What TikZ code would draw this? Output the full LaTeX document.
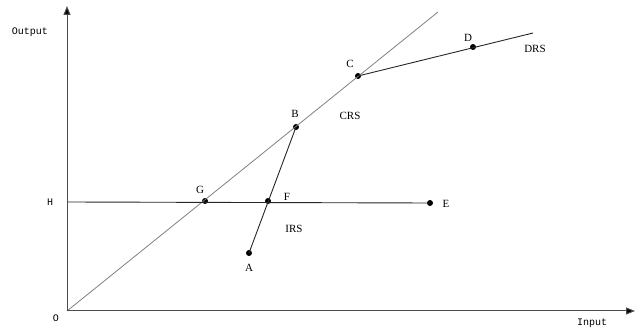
\documentclass[tikz,border=0pt]{standalone}
\usepackage{fontspec}
\usetikzlibrary{arrows.meta}
\setmainfont{Liberation Serif}
\newfontfamily\axfont{Liberation Mono}
\begin{document}
\begin{tikzpicture}[x=1pt,y=-1pt,
  dot/.style={circle,fill=black,inner sep=0pt,minimum size=6pt},
  lab/.style={font=\fontsize{11}{12}\selectfont,inner sep=0pt},
  axlab/.style={font=\axfont\fontsize{10}{11}\selectfont,inner sep=0pt},
  axisline/.style={draw=black!70,line width=1pt,-{Triangle[length=9pt,width=7pt,fill=black]}},
  seg/.style={draw=black!85,line width=0.9pt}]
\useasboundingbox (0,0) rectangle (635,331);
\coordinate (O) at (67,311);
\coordinate (ytop) at (67,6);
\coordinate (xend) at (635,311);
\coordinate (Cend) at (438,12);
\coordinate (Dend) at (533,33);
\coordinate (Hs) at (67,202);
\node[dot] (G) at (205,201) {};
\node[dot] (B) at (296,127) {};
\node[dot] (C) at (358,76) {};
\node[dot] (D) at (473,47) {};
\node[dot] (F) at (268,201) {};
\node[dot] (A) at (249,253) {};
\node[dot] (E) at (430,203) {};
\draw[draw=black!50,line width=0.8pt] (O) -- (Cend);
\draw[seg] (C.center) -- (Dend);
\draw[seg] (Hs) -- (E.center);
\draw[seg] (A.center) -- (B.center);
\draw[axisline] (O) -- (ytop);
\draw[axisline] (O) -- (xend);
\node[axlab] (lout) at (30,32) {Output};
\node[axlab] (lin) at (592,323) {Input};
\node[axlab] (lO) at (56,318) {O};
\node[axlab] (lH) at (50,202) {H};
\node[lab] (lG) at (200,190) {G};
\node[lab] (lF) at (287,197) {F};
\node[lab] (lE) at (446,204) {E};
\node[lab] (lIRS) at (294,229) {IRS};
\node[lab] (lA) at (249,268) {A};
\node[lab] (lB) at (295,114) {B};
\node[lab] (lC) at (350,64) {C};
\node[lab] (lD) at (468,38) {D};
\node[lab] (lCRS) at (350,116) {CRS};
\node[lab] (lDRS) at (535,49) {DRS};
\end{tikzpicture}
\end{document}
